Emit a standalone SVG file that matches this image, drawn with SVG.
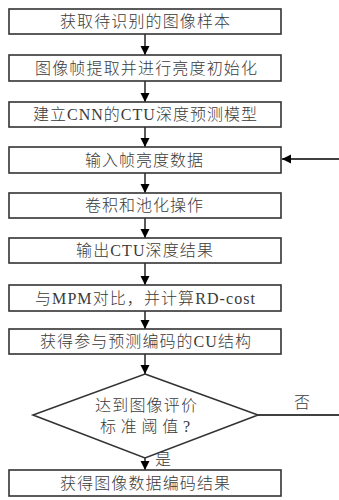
<svg xmlns="http://www.w3.org/2000/svg" width="339" height="500" viewBox="0 0 339 500">
<defs>
<marker id="ah" viewBox="0 0 10 10" refX="10" refY="5" markerWidth="9" markerHeight="10" markerUnits="userSpaceOnUse" orient="auto">
<path d="M0,0 L10,5 L0,10 Z" fill="#000"/>
</marker>
<style>
.box{fill:#fff;stroke:#333;stroke-width:1.6}
.t{font-family:"Liberation Serif","Noto Sans CJK SC",serif;font-size:16px;font-weight:300;fill:#3a3a3a;text-anchor:middle;dominant-baseline:central}
.c{stroke:#000;stroke-width:1.3;fill:none}
</style>
</defs>
<rect width="339" height="500" fill="#fff"/>
<g id="connectors">
<line class="c" x1="145" y1="34" x2="145" y2="55" marker-end="url(#ah)"/>
<line class="c" x1="145" y1="81" x2="145" y2="102" marker-end="url(#ah)"/>
<line class="c" x1="145" y1="127" x2="145" y2="147" marker-end="url(#ah)"/>
<line class="c" x1="145" y1="173" x2="145" y2="193" marker-end="url(#ah)"/>
<line class="c" x1="145" y1="218" x2="145" y2="238" marker-end="url(#ah)"/>
<line class="c" x1="145" y1="263" x2="145" y2="285" marker-end="url(#ah)"/>
<line class="c" x1="145" y1="311" x2="145" y2="329" marker-end="url(#ah)"/>
<line class="c" x1="145" y1="354" x2="145" y2="374" marker-end="url(#ah)"/>
<line class="c" x1="145" y1="458" x2="145" y2="470" marker-end="url(#ah)"/>
<line class="c" x1="258" y1="415" x2="339" y2="415"/>
<line class="c" x1="339" y1="159" x2="282" y2="159" marker-end="url(#ah)"/>
<text class="t" x="302" y="402">否</text>
<text class="t" x="163" y="459">是</text>
</g>
<g id="n1"><rect class="box" x="9" y="9" width="272" height="25"/><text class="t" x="145" y="21.5" textLength="170" lengthAdjust="spacing">获取待识别的图像样本</text></g>
<g id="n2"><rect class="box" x="9" y="55" width="272" height="26"/><text class="t" x="146" y="68" textLength="222" lengthAdjust="spacing">图像帧提取并进行亮度初始化</text></g>
<g id="n3"><rect class="box" x="9" y="102" width="272" height="25"/><text class="t" x="145" y="114.5" textLength="224" lengthAdjust="spacing">建立CNN的CTU深度预测模型</text></g>
<g id="n4"><rect class="box" x="9" y="147" width="272" height="26"/><text class="t" x="144" y="160" textLength="118" lengthAdjust="spacing">输入帧亮度数据</text></g>
<g id="n5"><rect class="box" x="9" y="193" width="272" height="25"/><text class="t" x="144" y="205.5" textLength="118" lengthAdjust="spacing">卷积和池化操作</text></g>
<g id="n6"><rect class="box" x="9" y="238" width="272" height="25"/><text class="t" x="144.5" y="250.5" textLength="137" lengthAdjust="spacing">输出CTU深度结果</text></g>
<g id="n7"><rect class="box" x="9" y="285" width="272" height="26"/><text class="t" x="145" y="298" textLength="220" lengthAdjust="spacing">与MPM对比，并计算RD-cost</text></g>
<g id="n8"><rect class="box" x="9" y="329" width="272" height="25"/><text class="t" x="145.5" y="341.5" textLength="211" lengthAdjust="spacing">获得参与预测编码的CU结构</text></g>
<g id="n9"><polygon class="box" points="145,374 258,415 145,458 33,415"/><text class="t" x="146" y="405" textLength="102" lengthAdjust="spacing">达到图像评价</text><text class="t" x="145" y="426" textLength="90" lengthAdjust="spacing">标准阈值?</text></g>
<g id="n10"><rect class="box" x="9" y="470" width="272" height="26"/><text class="t" x="145" y="483" textLength="170" lengthAdjust="spacing">获得图像数据编码结果</text></g>
</svg>
